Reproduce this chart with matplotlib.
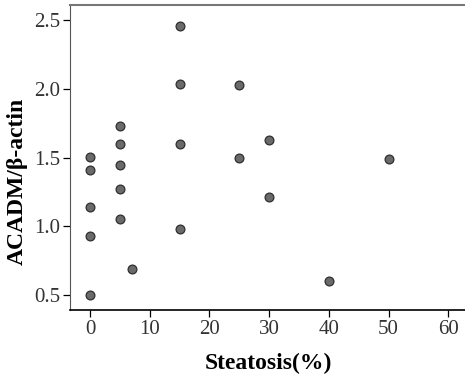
import matplotlib
matplotlib.use("Agg")
import matplotlib.pyplot as plt

# Datos
steatosis = [0, 0, 0, 0, 0,
             5, 5, 5, 5, 5,
             7,
             15, 15, 15, 15,
             25, 25,
             30, 30,
             40,
             50]
acadm = [1.505, 1.41, 1.137, 0.93, 0.50,
         1.734, 1.60, 1.444, 1.274, 1.055,
         0.69,
         2.46, 2.04, 1.597, 0.98,
         2.03, 1.498,
         1.63, 1.213,
         0.60,
         1.488]

x_ticks = [0, 10, 20, 30, 40, 50, 60]
y_ticks = [0.5, 1.0, 1.5, 2.0, 2.5]

plt.rcParams['font.family'] = ['Liberation Serif', 'DejaVu Serif']

fig = plt.figure(figsize=(4.65, 3.81), dpi=100)
ax = fig.add_axes([0.1505, 0.1864, 0.8495, 0.7996])

ax.scatter(steatosis, acadm, s=40, color='#6a6a6a', edgecolors='#2e2e2e',
           linewidths=0.9, zorder=3)

ax.set_xlim(-3.35, 62.8)
ax.set_ylim(0.39, 2.61)
ax.set_xticks(x_ticks)
ax.set_yticks(y_ticks)
ax.set_yticklabels([f"{v:.1f}" for v in y_ticks])

ax.tick_params(direction='out', length=5, width=0.9, labelsize=15,
               labelcolor='#333333', pad=2)
ax.spines['right'].set_visible(False)
ax.spines['top'].set_color('#777777')
ax.spines['top'].set_linewidth(1.5)
ax.spines['left'].set_color('#555555')
ax.spines['bottom'].set_linewidth(1.2)

ax.set_xlabel("Steatosis(%)", fontsize=17, fontweight='bold')
ax.set_ylabel("ACADM/β-actin", fontsize=17, fontweight='bold')
ax.xaxis.set_label_coords(0.501, -0.14)
ax.yaxis.set_label_coords(-0.108, 0.4235)

plt.savefig("out.png", dpi=100)
